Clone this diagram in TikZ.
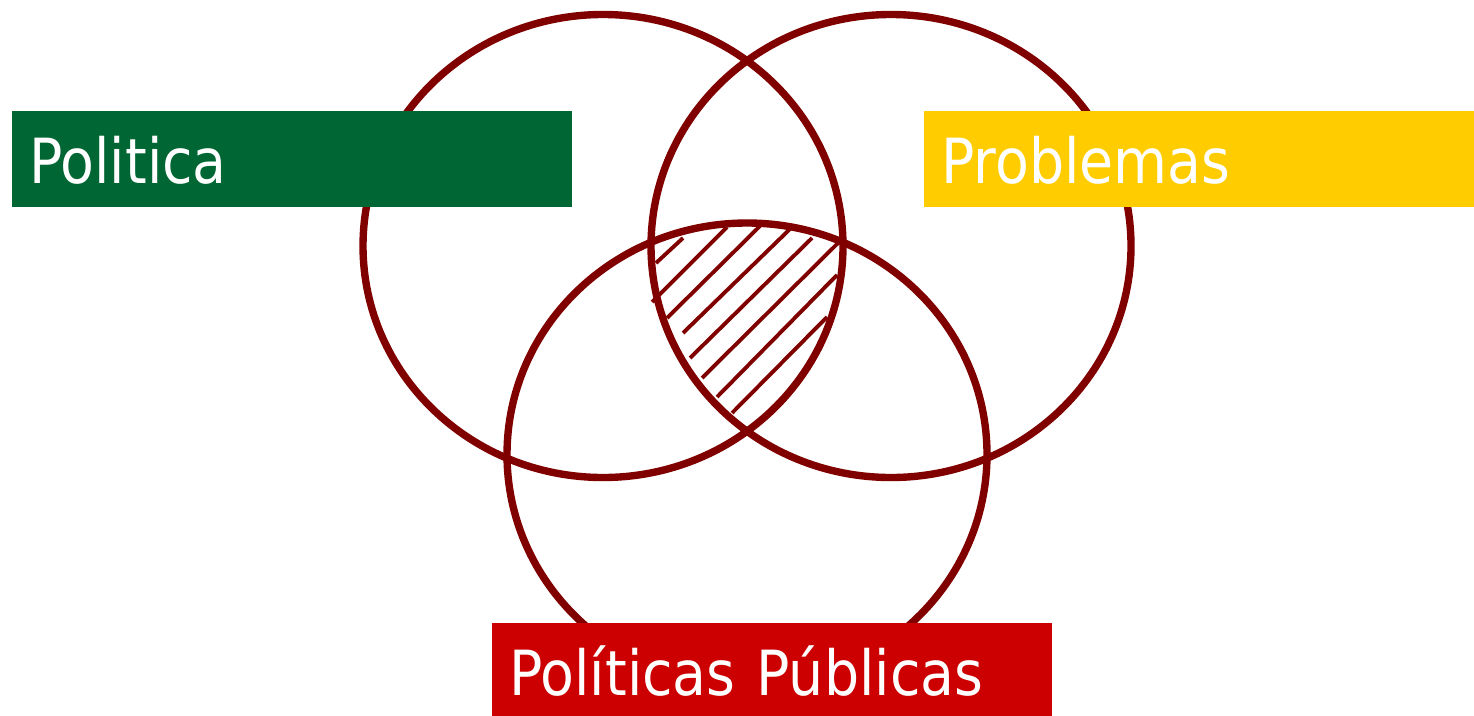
\documentclass[tikz,border=0pt]{standalone}
\usepackage{fontspec}
\usepackage{xcolor}
\usepackage{tikz}
\newfontfamily\vennfont[FakeStretch=0.89]{DejaVu Sans}
\definecolor{R0}{HTML}{800000}
\definecolor{G0}{HTML}{006633}
\definecolor{Y0}{HTML}{FFCC00}
\definecolor{C0}{HTML}{CC0000}

\begin{document}
\begin{tikzpicture}[x=0.01cm, y=-0.01cm,
  ring/.style={draw=R0, line width=2.1pt},
  hatch/.style={draw=R0, line width=1.1pt},
  tag/.style={anchor=north west, inner xsep=0.175cm, inner ysep=0pt, text height=0.727cm, text depth=0.233cm, align=left, text=white, font=\vennfont\fontsize{17.7}{21}\selectfont}]%
\useasboundingbox (0,0) rectangle (1474,715);%
\draw[ring] (603,246) ellipse [x radius=240, y radius=231.5];%
\draw[ring] (891,246) ellipse [x radius=240, y radius=231.5];%
\draw[ring] (747,454.5) ellipse [x radius=240, y radius=231.5];%
% hatch of the common part
\foreach \xa/\ya/\xb/\yb in {656/263/683/238, 652/302/727/227, 667/318/760/226, 683/333/790/229, 690/358/812/238, 702/378/838/243, 717/397/837/275, 732/413/827/317}
  \draw[hatch] (\xa,\ya) -- (\xb,\yb);%
\node[tag, fill=G0, text width=5.25cm] (politica) at (11,110) {Politica};%
\node[tag, fill=Y0, text width=5.16cm] (problemas) at (923,110) {Problemas};%
\node[tag, fill=C0, text width=5.25cm] (publicas) at (491,622) {Políticas Públicas};%
\end{tikzpicture}
\end{document}
